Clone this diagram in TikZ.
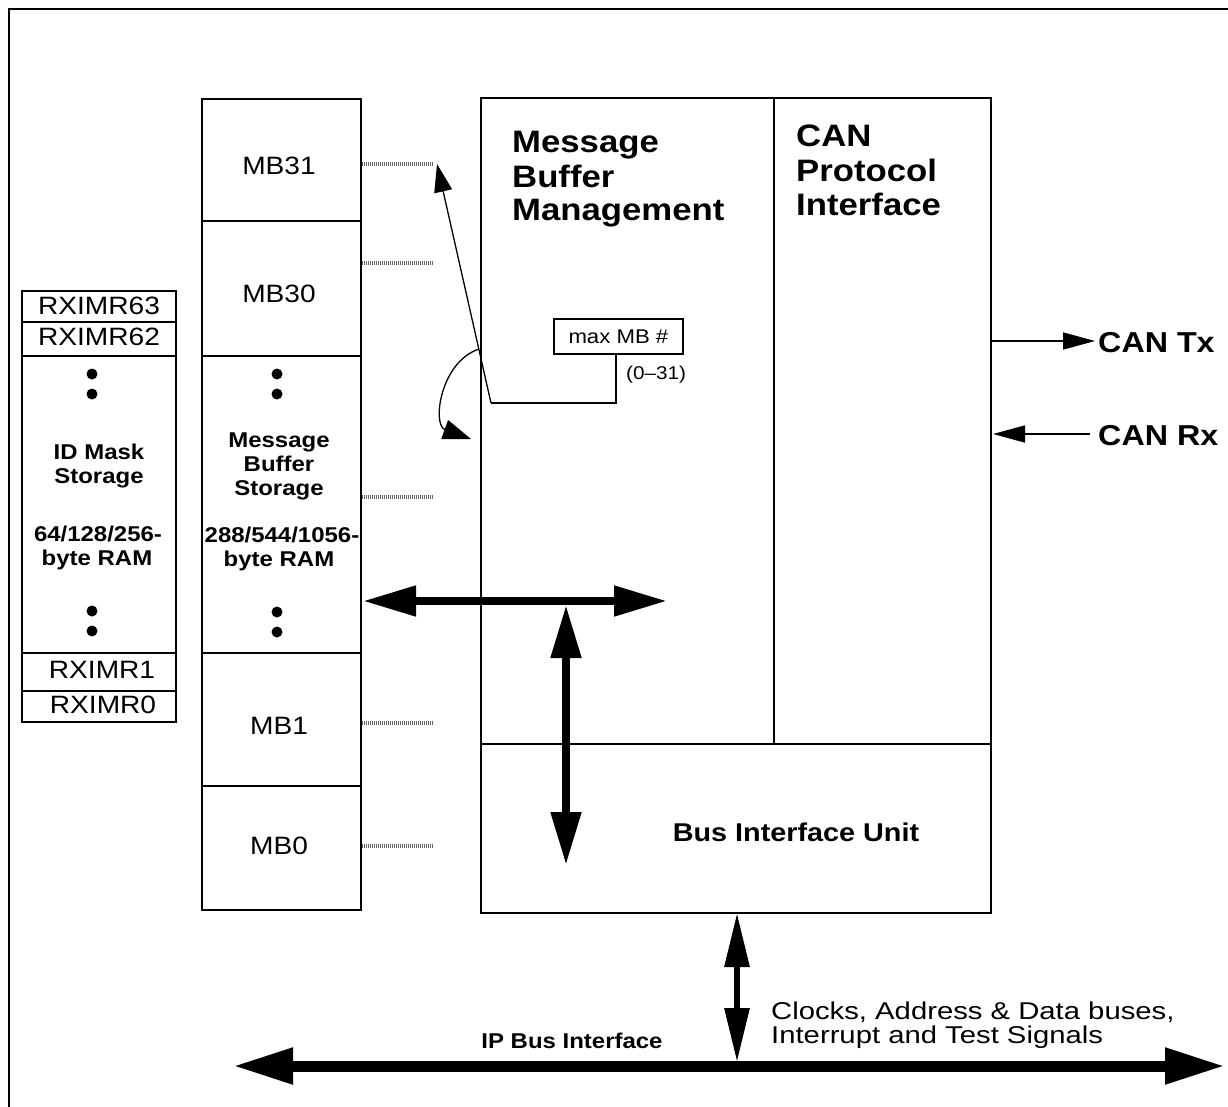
\documentclass[tikz,border=0pt]{standalone}
\usepackage{fontspec}
\setmainfont{Liberation Sans}[FakeStretch=1.12]
\usetikzlibrary{arrows.meta}
\newcommand{\fsz}[1]{\fontsize{#1}{#1}\selectfont}
\begin{document}
\begin{tikzpicture}[x=1pt,y=-1pt,
  box/.style={draw, line width=1.8pt},
  lbl/.style={inner sep=0pt, anchor=base},
  lblw/.style={inner sep=0pt, anchor=base west},
  dotl/.style={draw=black!60, line width=3.8pt, dash pattern=on 1pt off 1pt},
  fatbus/.style={line width=8pt, {Triangle[length=53pt,width=29pt]}-{Triangle[length=53pt,width=29pt]}},
  ipbus/.style={line width=11pt, {Triangle[length=60pt,width=34pt]}-{Triangle[length=60pt,width=34pt]}},
  ipvert/.style={line width=6pt, {Triangle[length=54pt,width=24pt]}-{Triangle[length=54pt,width=24pt]}},
  sig/.style={line width=1.5pt, -{Triangle[length=32pt,width=17pt]}},
  thin/.style={line width=1.3pt},
  regtxt/.style={lbl, font=\fsz{25.1}},
  bstk/.style={lbl, font=\bfseries\fsz{21.4}},
  ttl/.style={lblw, font=\bfseries\fsz{31}}
]
\useasboundingbox (0,0) rectangle (1228,1106);
% outer frame (top and left)
\draw[line width=2.2pt] (9,1115) -- (9,9) -- (1240,9);

% ---------- ID mask stack ----------
\draw[box] (22,291) rectangle (176,722);
\draw[box] (22,322) -- (176,322);
\draw[box] (22,356) -- (176,356);
\draw[box] (22,653) -- (176,653);
\draw[box] (22,691) -- (176,691);
\node[regtxt] (r63) at (99,314) {RXIMR63};
\node[regtxt] (r62) at (99,345) {RXIMR62};
\node[regtxt] (r1) at (102,678) {RXIMR1};
\node[regtxt] (r0) at (103,713) {RXIMR0};
\fill (92,374) circle (5.5pt);
\fill (92,394) circle (5.5pt);
\fill (92,611) circle (5.5pt);
\fill (92,631) circle (5.5pt);
\node[bstk] (id1) at (99,459) {ID Mask};
\node[bstk] (id2) at (99,483) {Storage};
\node[bstk] (id3) at (98,541) {64/128/256-};
\node[bstk] (id4) at (97,565) {byte RAM};

% ---------- Message buffer stack ----------
\draw[box] (202,99) rectangle (361,910);
\draw[box] (202,221) -- (361,221);
\draw[box] (202,356) -- (361,356);
\draw[box] (202,653) -- (361,653);
\draw[box] (202,786) -- (361,786);
\node[regtxt] (mb31) at (279,174) {MB31};
\node[regtxt] (mb30) at (279,302) {MB30};
\node[regtxt] (mb1) at (279,734) {MB1};
\node[regtxt] (mb0) at (279,854) {MB0};
\fill (277,374) circle (5.5pt);
\fill (277,394) circle (5.5pt);
\fill (277,612) circle (5.5pt);
\fill (277,632) circle (5.5pt);
\node[bstk] (ms1) at (279,447) {Message};
\node[bstk] (ms2) at (279,471) {Buffer};
\node[bstk] (ms3) at (279,495) {Storage};
\node[bstk] (ms4) at (282,542) {288/544/1056-};
\node[bstk] (ms5) at (279,566) {byte RAM};

% dotted stubs
\coordinate (d31a) at (362,164); \coordinate (d31b) at (433,164);
\coordinate (d30a) at (362,263); \coordinate (d30b) at (433,263);
\coordinate (dxa) at (362,497);  \coordinate (dxb) at (433,497);
\coordinate (d1a) at (362,723);  \coordinate (d1b) at (433,723);
\coordinate (d0a) at (362,846);  \coordinate (d0b) at (433,846);
\draw[dotl] (d31a) -- (d31b);
\draw[dotl] (d30a) -- (d30b);
\draw[dotl] (dxa) -- (dxb);
\draw[dotl] (d1a) -- (d1b);
\draw[dotl] (d0a) -- (d0b);

% ---------- main block ----------
\draw[box] (481,98) rectangle (991,913);
\draw[box] (774,98) -- (774,744);
\draw[box] (481,744) -- (991,744);
\node[ttl] (mbm1) at (512,152) {Message};
\node[ttl] (mbm2) at (512,187) {Buffer};
\node[ttl] (mbm3) at (512,220) {Management};
\node[ttl] (cpi1) at (796,146) {CAN};
\node[ttl] (cpi2) at (796,181) {Protocol};
\node[ttl] (cpi3) at (796,215) {Interface};
\node[lbl, font=\bfseries\fsz{25.7}] (biu) at (796,841) {Bus Interface Unit};

% max MB box
\node[draw, line width=1.8pt, minimum width=129pt, minimum height=35pt, inner sep=0pt, anchor=north west, font=\fsz{19.8}] (maxmb) at (553,318) {max MB \#};
\node[lblw, font=\fsz{18.5}] (range) at (626,379) {(0--31)};
\coordinate (c1) at (616,353);
\coordinate (c2) at (616,403);
\coordinate (c3) at (491,403);
\coordinate (c4) at (437,164);
\draw[line width=2.4pt] (c1) -- (c2) -- (c3);
\draw[thin, -{Triangle[length=28pt,width=18pt]}] (c3) -- (c4);
\coordinate (k1) at (479,349);
\coordinate (k2) at (471,439);
\draw[thin, -{Triangle[length=28pt,width=20pt]}] (k1) .. controls (440,362) and (432,425) .. (k2);

% internal buses
\coordinate (hL) at (363,601); \coordinate (hR) at (667,601);
\draw[fatbus] (hL) -- (hR);
\coordinate (vT) at (566,605); \coordinate (vB) at (566,865);
\draw[fatbus] (vT) -- (vB);

% CAN signals
\coordinate (tx0) at (992,341); \coordinate (tx1) at (1095,341);
\draw[sig] (tx0) -- (tx1);
\node[lblw, font=\bfseries\fsz{28.8}] (cantx) at (1098,352) {CAN Tx};
\coordinate (rx0) at (1090,434); \coordinate (rx1) at (993,434);
\draw[sig] (rx0) -- (rx1);
\node[lblw, font=\bfseries\fsz{28.8}] (canrx) at (1098,445) {CAN Rx};

% IP bus
\coordinate (bL) at (233,1066); \coordinate (bR) at (1225,1066);
\draw[ipbus] (bL) -- (bR);
\coordinate (pT) at (737,913); \coordinate (pB) at (737,1062);
\draw[ipvert] (pT) -- (pB);
\node[lbl, font=\bfseries\fsz{21.4}] (ipb) at (572,1048) {IP Bus Interface};
\node[lblw, font=\fsz{24.3}] (clk1) at (771,1019) {\scalebox{1.075}[1]{Clocks, Address \& Data buses,}};
\node[lblw, font=\fsz{24.3}] (clk2) at (771,1043) {\scalebox{1.075}[1]{Interrupt and Test Signals}};
\end{tikzpicture}
\end{document}
